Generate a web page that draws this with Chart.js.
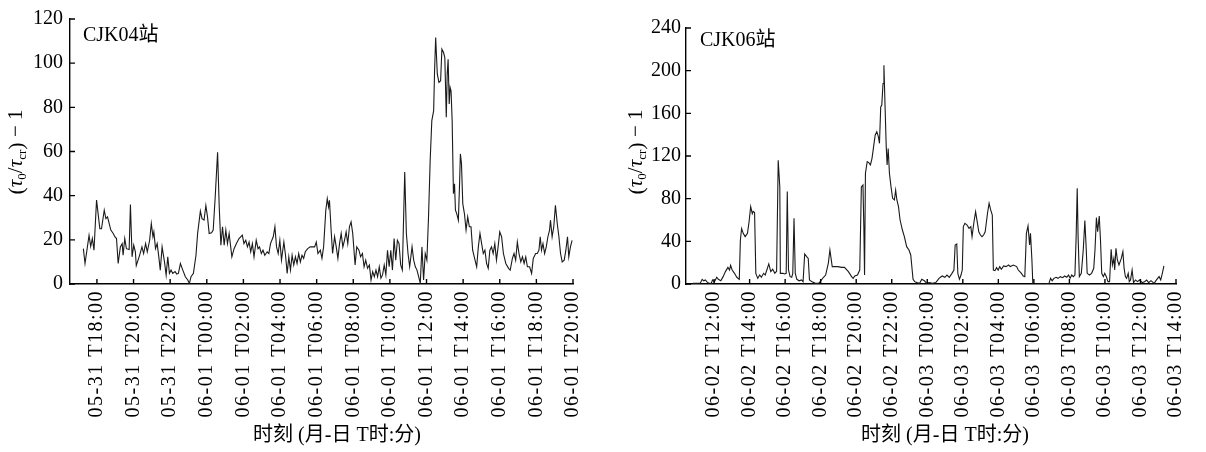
<!DOCTYPE html>
<html>
<head>
<meta charset="utf-8">
<script src="https://cdn.jsdelivr.net/npm/chart.js@4.4.1/dist/chart.umd.min.js"></script>
<style>
html, body { margin: 0; padding: 0; background: #fff; }
#wrap { position: relative; width: 1206px; height: 452px; }
.box { position: absolute; top: 0; width: 603px; height: 452px; }
</style>
</head>
<body>
<div id="wrap">
  <div class="box" style="left:0"><canvas id="c04" width="603" height="452"></canvas></div>
  <div class="box" style="left:603px"><canvas id="c06" width="603" height="452"></canvas></div>
</div>
<script>
// ---- CJK04: hours after 05-31 T18:00 ----
const cjk04Ticks = ["05-31 T18:00", "05-31 T20:00", "05-31 T22:00", "06-01 T00:00", "06-01 T02:00",
  "06-01 T04:00", "06-01 T06:00", "06-01 T08:00", "06-01 T10:00", "06-01 T12:00", "06-01 T14:00",
  "06-01 T16:00", "06-01 T18:00", "06-01 T20:00"];

const cjk04Hours = [
  -0.74,-0.65,-0.43,-0.34,-0.25,-0.16,-0.02,0.16,0.25,0.40,0.49,0.58,0.76,0.89,0.98,1.07,1.16,1.28,1.38,1.43,
  1.52,1.61,1.76,1.83,1.92,2.01,2.10,2.15,2.33,2.46,2.55,2.66,2.75,2.88,2.97,3.06,3.11,3.20,3.29,3.38,
  3.46,3.56,3.69,3.78,3.87,3.96,4.05,4.14,4.27,4.36,4.45,4.56,4.69,4.83,4.96,5.05,5.14,5.27,5.41,5.50,
  5.65,5.74,5.85,5.95,6.04,6.13,6.26,6.35,6.46,6.59,6.68,6.77,6.86,6.95,7.04,7.13,7.22,7.37,7.49,7.62,7.76,
  7.94,8.03,8.13,8.22,8.31,8.40,8.49,8.58,8.70,8.80,8.88,8.98,9.07,9.17,9.30,9.39,9.48,9.63,9.72,9.81,
  9.90,9.99,10.08,10.21,10.30,10.39,10.48,10.57,10.66,10.75,10.84,10.93,11.02,11.11,11.20,11.29,11.38,11.51,11.65,11.78,
  11.89,11.98,12.07,12.20,12.29,12.38,12.50,12.58,12.65,12.70,12.79,12.87,12.98,13.07,13.16,13.25,13.34,13.43,13.52,13.61,
  13.70,13.79,13.88,13.97,14.10,14.19,14.31,14.40,14.50,14.59,14.68,14.78,14.88,14.97,15.06,15.15,15.24,15.33,15.42,15.51,
  15.60,15.69,15.78,15.87,15.96,16.05,16.14,16.23,16.32,16.41,16.50,16.59,16.68,16.81,16.90,
  16.99,17.08,17.21,17.30,17.39,17.48,17.57,17.66,17.75,17.84,17.93,18.02,18.11,18.20,18.29,18.39,18.44,18.50,18.59,18.68,
  18.77,18.84,18.93,19.00,19.08,19.13,19.18,19.24,19.29,19.34,19.40,19.47,19.53,19.58,19.65,19.74,19.80,19.85,19.91,19.98,
  20.07,20.16,20.25,20.34,20.43,20.52,20.65,20.74,20.83,20.92,21.01,21.10,21.19,21.28,21.37,21.46,21.55,21.64,21.73,21.82,
  21.91,22.00,22.10,22.20,22.33,22.48,22.57,22.69,22.78,22.87,22.96,23.05,23.15,23.24,23.33,23.42,23.51,23.63,23.74,23.83,
  23.96,24.05,24.14,24.21,24.28,24.36,24.45,24.54,24.63,24.72,24.77,24.86,24.95,25.04,25.14,25.23,25.32,25.41,25.52,25.61,
  25.70,25.77,25.86,25.95
];
const cjk04Values = [
  16,9.3,22,17,20.6,15.3,38,25,25,33.4,29.6,30.4,24.4,22.9,21.4,20.6,9.3,16.8,18.3,13,
  20.6,16,15.6,36,12.3,17.6,14.6,8.3,13,16.8,13.8,18.3,14.6,19.8,27.4,21.4,23.6,16,18.3,12.3,
  6.3,16.8,10,4,12.3,4.8,6.3,4.8,5.6,4.5,4.8,9.3,6.3,3.3,1.8,0.3,3.3,4.8,13,22.9,
  33,29.6,29,35.5,30.4,22.9,23.2,24.4,39.4,59.7,34.9,17.6,25.9,17.6,24.4,18.3,22.9,12.3,16,18.3,20.6,
  22.1,18.3,19.8,16.8,19,14.6,18.3,12.3,19.8,16,16.8,13.8,15.3,13,14.6,13.8,18.3,21.4,25.9,16.8,
  13.8,19.8,10.8,19,13,4.8,12.3,6.3,13,8.6,12.3,9.3,13.8,10,13,11.6,14.6,16,16.8,16.8,
  16.8,19,13.8,15.3,11.6,16.8,33.4,38.6,34.9,37.9,24.4,13.8,21.4,16.8,11.6,18.3,22.9,16.8,19.8,23.6,
  18.3,25.9,28.1,22.9,8.6,16.8,15.3,12.3,13.8,7.8,10.8,7.1,8.6,1.8,5.6,3.3,6.3,3.3,7.8,2.6,
  4.1,8.6,4.1,15.3,7.8,15.3,6.3,20.6,10.8,19.8,18.3,8.6,6.3,50.7,22.9,
  13.8,7.8,16.8,10.8,7.8,6.3,3.3,0.3,16.8,1.8,13.8,10.8,30.4,56,74,78.5,96.5,111.6,95,91.3,
  92,106.3,104.8,102.5,75.5,95,101.8,81.5,89,87.5,74,40.9,45.4,33.4,31.9,28.9,43.9,58.9,54.4,36.4,
  31.9,24.4,30.4,25.9,25.9,15.3,10.8,7.8,16.8,22.9,18.3,13.8,15.3,9.3,7.1,15.3,16.8,13.8,18.3,10.8,
  16.8,23.6,21.4,13.8,9.3,7.1,6.3,11.6,13.8,10.8,19,13.8,10,12.3,9.3,12.3,7.8,7.8,4.8,11.6,
  13.8,13.8,15.3,21.4,15.3,18.3,13.8,16.8,21.4,24.4,28.9,21.4,25.9,35.6,27.4,21.4,13.8,10,10.8,15.3,
  21.4,12.3,16.8,19.8
];

// ---- CJK06: hours after 06-02 T12:00 ----
const cjk06Ticks = ["06-02 T12:00", "06-02 T14:00", "06-02 T16:00", "06-02 T18:00", "06-02 T20:00",
  "06-02 T22:00", "06-03 T00:00", "06-03 T02:00", "06-03 T04:00", "06-03 T06:00", "06-03 T08:00",
  "06-03 T10:00", "06-03 T12:00", "06-03 T14:00"];

const cjk06Hours = [
  -1.18,-1.04,-0.77,-0.67,-0.58,-0.49,-0.40,-0.31,-0.16,-0.09,0.02,0.15,0.24,0.38,0.51,0.64,0.78,0.87,0.93,1.02,
  1.15,1.28,1.42,1.48,1.55,1.64,1.75,1.88,1.97,2.06,2.15,2.20,2.28,2.35,2.46,2.57,2.66,2.79,2.88,2.97,
  3.08,3.19,3.30,3.42,3.52,3.61,3.70,3.73,3.88,3.97,4.06,4.12,4.19,4.28,4.37,4.43,4.50,4.57,4.66,4.79,
  4.92,5.01,5.10,5.21,5.30,5.37,5.52,5.70,5.88,5.97,6.16,6.28,6.43,6.52,6.65,6.79,6.98,7.16,7.34,
  7.56,7.74,7.83,7.92,8.07,8.20,8.29,8.38,8.43,8.47,8.52,8.62,8.71,8.80,8.89,8.98,9.07,9.16,9.25,9.31,
  9.38,9.44,9.51,9.56,9.62,9.69,9.74,9.80,9.87,9.96,10.05,10.15,10.22,10.29,10.38,10.47,10.60,10.71,10.84,10.97,
  11.07,11.15,11.20,11.29,11.42,11.57,11.69,11.84,11.97,12.11,12.29,12.48,12.66,12.84,12.99,13.11,13.24,13.39,13.50,13.57,
  13.66,13.72,13.81,13.90,13.97,14.03,14.12,14.24,14.35,14.45,14.52,14.63,14.72,14.81,14.90,14.99,15.08,15.17,15.26,15.39,
  15.48,15.57,15.66,15.72,15.81,15.90,15.99,16.08,16.17,16.30,16.43,16.58,16.67,
  16.85,17.03,17.12,17.21,17.30,17.40,17.49,17.58,17.67,17.76,17.81,17.89,17.94,18.12,18.31,18.49,18.67,18.85,18.94,19.03,
  19.13,19.25,19.36,19.49,19.62,19.73,19.85,19.95,20.04,20.13,20.22,20.31,20.38,20.44,20.49,20.56,20.67,20.78,20.87,20.95,
  21.00,21.13,21.25,21.37,21.44,21.52,21.59,21.68,21.75,21.82,21.91,21.99,22.08,22.17,22.26,22.35,22.42,22.50,22.55,22.62,
  22.70,22.79,22.92,23.01,23.08,23.15,23.22,23.31,23.37,23.44,23.53,23.61,23.72,23.83,23.95,24.10,24.23,24.35,24.46,24.59,
  24.77,24.90,25.05,25.14,25.23,25.32
];
const cjk06Values = [
  0.6,0.6,1,4.4,3,3.8,2,1,0.6,3.8,2,6.3,4.4,3,6.9,11.6,15.6,13.1,17.5,13.1,
  10,6.3,4.4,41,52,47.5,44.4,47.5,58.4,72.5,66,68,67,10,5.3,8.4,6.3,10,8.4,13.1,
  18.8,11.6,13.8,10,12,116,91,10,10,9.4,10,86.6,13.1,6.9,6.3,10,61.6,10,4.4,3,
  3.8,2.2,28.1,25.6,24,3.8,2,0.6,0.6,2.2,6.3,8.4,19.4,31.9,16.3,16.3,16.3,15.6,15.6,
  11.6,6.9,5.3,7.5,8.4,13.1,91,92.8,53.8,8.4,103.8,114.7,113.8,111.6,117.8,128.8,139.7,142.8,138,131.9,
  166,167.8,188,205,169,128.8,111.6,127,103.8,91,80.3,78.8,88,78.8,72.5,60,50.6,44.4,35,31.9,
  27.2,13.1,4.4,2.2,1.3,0.6,4.4,3,0.6,1.3,0.6,1.3,5.3,7.5,6.3,8.4,6.3,10,13.1,36.6,
  37.5,10,4.4,8.4,13.1,53.8,56.9,55.3,52.2,53.8,44.4,58.4,67.8,58.4,49,45.9,44.4,45.9,49,66.3,
  75.6,69.4,64.7,13.1,12.5,15.3,13.1,16.3,13.8,16.9,16.3,17.8,16.3,
  17.8,16.3,13.1,11.6,10,7.5,6.9,47.5,54.4,36.6,47.5,22.5,0.6,0,0,0,0,0.6,5.3,3.1,
  5.3,6.3,5.3,6.9,5.9,7.5,6.3,8.4,5.3,8.4,6.9,8.4,44.4,89.7,44.4,6.9,10,31.9,59.4,31.9,
  10,8.4,10,14.7,31.9,62.2,49,63.8,41.3,10,6.9,10,6.9,2.2,2.2,32.5,17.8,24,13.1,33.4,
  22.5,17.8,24,30.3,14.7,6.9,5.3,10,2.2,3.8,13.1,1.3,3.8,2.2,3.8,1.3,2.2,3.8,1.3,3.1,
  0.6,3.8,6.9,3.8,10,16.9
];

const FONT = '"Liberation Serif", "Times New Roman", "Noto Sans CJK SC", serif';
const X_TITLE = "时刻 (月-日 T时:分)";

// ==============================
// 装饰: 内向刻度, 站名, 轴标题
// ==============================
const decorPlugin = {
  id: "decor",
  beforeDraw(chart, args, opts) {
    // x 轴刻度文字加一点字距
    const sx = chart.scales.x;
    if (!sx._spaced) {
      const orig = sx.drawLabels.bind(sx);
      sx.drawLabels = function (area) {
        const c = this.ctx;
        c.save();
        c.letterSpacing = opts.tickSpacing;
        orig(area);
        c.restore();
      };
      sx._spaced = true;
    }
  },
  afterDraw(chart, args, opts) {
    const ctx = chart.ctx;
    const { x, y } = chart.scales;
    ctx.save();
    ctx.strokeStyle = "#000";
    ctx.lineWidth = 1.4;
    ctx.beginPath();
    x.ticks.forEach(t => {
      const px = x.getPixelForValue(t.value);
      ctx.moveTo(px, y.bottom);
      ctx.lineTo(px, y.bottom - 5);
    });
    y.ticks.forEach(t => {
      const py = y.getPixelForValue(t.value);
      ctx.moveTo(x.left, py);
      ctx.lineTo(x.left + 5, py);
    });
    ctx.stroke();

    ctx.fillStyle = "#000";
    ctx.font = "20px " + FONT;
    ctx.textAlign = "left";
    ctx.textBaseline = "alphabetic";
    ctx.fillText(opts.station, opts.stationX, opts.stationY);

    ctx.textAlign = "center";
    ctx.textBaseline = "middle";
    ctx.fillText(X_TITLE, opts.xTitleX, opts.xTitleY);

    drawYTitle(ctx, opts.yTitleX, opts.yTitleY);
    ctx.restore();
  }
};

function drawYTitle(ctx, cx, cy) {
  const parts = [
    { t: "(", f: "22px " + FONT, dy: 1 },
    { t: "τ", f: "italic 21px " + FONT, dy: 0 },
    { t: "0", f: "13px " + FONT, dy: 4 },
    { t: "/", f: "21px " + FONT, dy: 0 },
    { t: "τ", f: "italic 21px " + FONT, dy: 0 },
    { t: "cr", f: "13px " + FONT, dy: 4 },
    { t: ")", f: "22px " + FONT, dy: 1 },
    { t: " − 1", f: "21px " + FONT, dy: 0 }
  ];
  let total = 0;
  parts.forEach(p => { ctx.font = p.f; p.w = ctx.measureText(p.t).width; total += p.w; });
  ctx.save();
  ctx.translate(cx, cy);
  ctx.rotate(-Math.PI / 2);
  ctx.textAlign = "left";
  ctx.textBaseline = "alphabetic";
  let pos = -total / 2;
  parts.forEach(p => {
    ctx.font = p.f;
    ctx.fillText(p.t, pos, p.dy);
    pos += p.w;
  });
  ctx.restore();
}

function makeChart(id, hours, values, ticks, yMax, yStep, geo, decor) {
  const points = hours.map((h, i) => ({ x: h, y: values[i] }));
  return new Chart(document.getElementById(id), {
    type: "line",
    data: {
      datasets: [{
        data: points,
        borderColor: "#1a1a1a",
        borderWidth: 1.1,
        pointRadius: 0,
        tension: 0,
        fill: false
      }]
    },
    options: {
      responsive: false,
      animation: false,
      layout: { padding: { left: 0, top: geo.top, right: geo.right, bottom: 0 } },
      plugins: {
        legend: { display: false },
        tooltip: { enabled: false },
        decor: decor
      },
      scales: {
        x: {
          type: "linear",
          min: geo.xMin,
          max: (ticks.length - 1) * 2,
          grid: { display: false, drawTicks: false },
          border: { display: true, color: "#000", width: 1.4 },
          afterBuildTicks: s => { s.ticks = ticks.map((_, i) => ({ value: i * 2 })); },
          afterFit: s => { s.height = 168; },
          ticks: {
            autoSkip: false,
            maxRotation: 90,
            minRotation: 90,
            padding: 6,
            color: "#000",
            font: { family: FONT, size: 20 },
            callback: v => ticks[Math.round(v / 2)]
          }
        },
        y: {
          min: 0,
          max: yMax,
          grid: { display: false, drawTicks: false },
          border: { display: true, color: "#000", width: 1.4 },
          afterFit: s => { s.width = geo.yWidth; },
          ticks: {
            stepSize: yStep,
            padding: geo.yPad,
            color: "#000",
            font: { family: FONT, size: 20 }
          }
        }
      }
    },
    plugins: [decorPlugin]
  });
}

makeChart("c04", cjk04Hours, cjk04Values, cjk04Ticks, 120, 20,
  { top: 18, right: 27, yWidth: 70, xMin: -1.47, yPad: 7 },
  { station: "CJK04站", stationX: 83, stationY: 41, xTitleX: 337, xTitleY: 436,
    yTitleX: 22, yTitleY: 152, tickSpacing: "1.5px" });

makeChart("c06", cjk06Hours, cjk06Values, cjk06Ticks, 240, 40,
  { top: 28, right: 15, yWidth: 83, xMin: -1.58, yPad: 5 },
  { station: "CJK06站", stationX: 97, stationY: 46, xTitleX: 342, xTitleY: 436,
    yTitleX: 39, yTitleY: 152, tickSpacing: "1.5px" });
</script>
</body>
</html>
